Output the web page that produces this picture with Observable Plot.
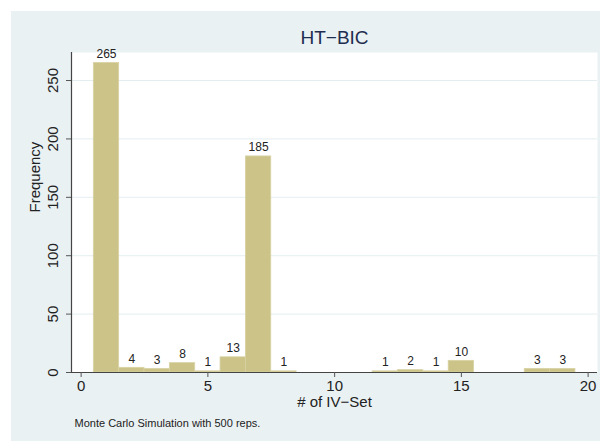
<!DOCTYPE html>
<html>
<head>
<meta charset="utf-8">
<script src="https://cdn.jsdelivr.net/npm/d3@7"></script>
<script src="https://cdn.jsdelivr.net/npm/@observablehq/plot@0.6"></script>
<style>
  html, body { margin: 0; padding: 0; background: #ffffff; }
  #wrap { position: relative; width: 600px; height: 441px; }
  #bg { position: absolute; left: 11px; top: 11px; width: 589px; height: 430px; background: #EAF1F3; }
  #chart { position: absolute; left: 0; top: 0; }
</style>
</head>
<body>
<div id="wrap"><div id="bg"></div><div id="chart"></div></div>
<script>
const ivSet =     [1,   2, 3, 4, 5, 6,  7,   8, 12, 13, 14, 15, 18, 19];
const frequency = [265, 4, 3, 8, 1, 13, 185, 1, 1,  2,  1,  10, 3,  3];
const xTicks = [0, 5, 10, 15, 20];
const yTicks = [0, 50, 100, 150, 200, 250];
const titleText = "HT\u2212BIC";
const xLabel = "# of IV\u2212Set";
const yLabel = "Frequency";
const caption = "Monte Carlo Simulation with 500 reps.";

const data = ivSet.map((v, i) => ({x1: v - 0.5, x2: v + 0.5, xm: v, y: frequency[i]}));

const font = "Liberation Sans, Arial, Helvetica, sans-serif";
const barFill = "#CBC387";

const chart = Plot.plot({
  width: 600,
  height: 441,
  marginLeft: 71,
  marginRight: 3,
  marginTop: 52,
  marginBottom: 69,
  style: {background: "transparent", fontFamily: font, color: "#222"},
  x: {domain: [-0.38, 20.37], ticks: xTicks},
  y: {domain: [0, 274], ticks: yTicks},
  marks: [
    Plot.frame({fill: "white", stroke: null}),
    Plot.gridY(yTicks, {stroke: "#E4EEF0", strokeOpacity: 1, strokeWidth: 1}),
    Plot.rectY(data, {x1: "x1", x2: "x2", y: "y", fill: barFill, stroke: "#D8D2A4", strokeWidth: 0.8}),
    Plot.text(data, {x: "xm", y: "y", text: d => String(d.y), lineAnchor: "bottom", dy: -5, fontSize: 12, fill: "#222"}),
    Plot.ruleX([-0.38], {stroke: "#444", strokeWidth: 1.2}),
    Plot.ruleY([0], {stroke: "#444", strokeWidth: 1.2}),
    Plot.axisY({ticks: yTicks, tickSize: 5, tickFormat: () => "", stroke: "#555", label: null}),
    Plot.text(yTicks, {y: d => d, text: d => String(d), frameAnchor: "left", dx: -18, rotate: -90, textAnchor: "middle", lineAnchor: "middle", fontSize: 15, fill: "#222"}),
    Plot.axisX({ticks: xTicks, tickSize: 5, tickPadding: 3, fontSize: 15, stroke: "#555", label: null, color: "#222"}),
    Plot.text([xLabel], {frameAnchor: "bottom", dy: 30, lineAnchor: "middle", fontSize: 15, fill: "#222"}),
    Plot.text([yLabel], {frameAnchor: "left", dx: -36, rotate: -90, lineAnchor: "middle", fontSize: 15, fill: "#222"}),
    Plot.text([titleText], {frameAnchor: "top", dy: -9, lineAnchor: "bottom", fontSize: 19, fill: "#1F2D50"}),
    Plot.text([caption], {frameAnchor: "bottom-left", dx: 3, dy: 51, textAnchor: "start", lineAnchor: "middle", fontSize: 11, fill: "#222"})
  ]
});
document.getElementById("chart").appendChild(chart);
</script>
</body>
</html>
